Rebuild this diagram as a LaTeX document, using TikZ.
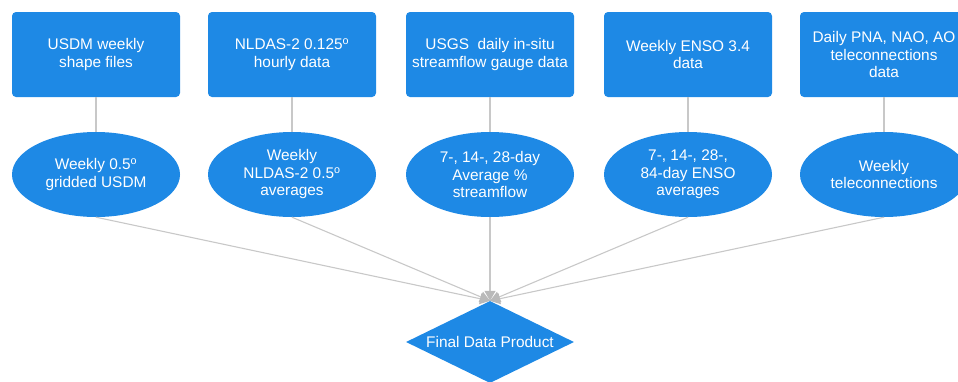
\documentclass[tikz,border=0pt]{standalone}
\usepackage{fontspec}
\setmainfont{Liberation Sans}
\usetikzlibrary{shapes.geometric,arrows.meta}
\definecolor{nodeblue}{RGB}{30,137,229}
\definecolor{linegray}{RGB}{200,200,200}
\definecolor{arrowgray}{RGB}{185,185,185}
\begin{document}
\begin{tikzpicture}[x=1pt,y=-1pt,
  txt/.style={text=white, align=center, font=\fontsize{15.4}{17.5}\selectfont},
  srcbox/.style={txt, rectangle, rounded corners=4pt, fill=nodeblue, minimum width=168pt, minimum height=85pt, inner sep=0pt},
  midell/.style={txt, ellipse, fill=nodeblue, minimum width=168pt, minimum height=85pt, inner sep=0pt},
  final/.style={txt, diamond, fill=nodeblue, aspect=2.05, minimum width=168pt, minimum height=82pt, inner sep=0pt},
  link/.style={draw=linegray, line width=1.1pt},
  arr/.style={link, -{Triangle[length=10pt,width=11pt,fill=arrowgray,color=arrowgray]}}]
\useasboundingbox (0,0) rectangle (958,381);
\clip (0,0) rectangle (958,381);
\node[srcbox] (b1) at (96,54.5) {USDM weekly\\shape files};
\node[srcbox] (b2) at (292,54.5) {NLDAS-2 0.125\textsuperscript{o}\\hourly data};
\node[srcbox] (b3) at (490,54.5) {USGS\ \ daily in-situ\\streamflow gauge data};
\node[srcbox] (b4) at (688,54.5) {Weekly ENSO 3.4\\data};
\node[srcbox] (b5) at (884,54.5) {Daily PNA, NAO, AO\\teleconnections\\data};
\node[midell] (e1) at (96,174.5) {Weekly 0.5\textsuperscript{o}\\gridded USDM};
\node[midell] (e2) at (292,174.5) {Weekly\\NLDAS-2 0.5\textsuperscript{o}\\averages};
\node[midell] (e3) at (490,174.5) {7-, 14-, 28-day\\Average \%\\streamflow};
\node[midell] (e4) at (688,174.5) {7-, 14-, 28-,\\84-day ENSO\\averages};
\node[midell] (e5) at (884,174.5) {Weekly\\teleconnections};
\node[final] (d) at (490,342) {Final Data Product};
\foreach \i in {1,...,5} {
  \draw[link] (b\i.south) -- (e\i.north);
}
\foreach \i in {1,2,4,5,3} {
  \draw[arr] (e\i.south) -- (d.north);
}
\end{tikzpicture}
\end{document}
